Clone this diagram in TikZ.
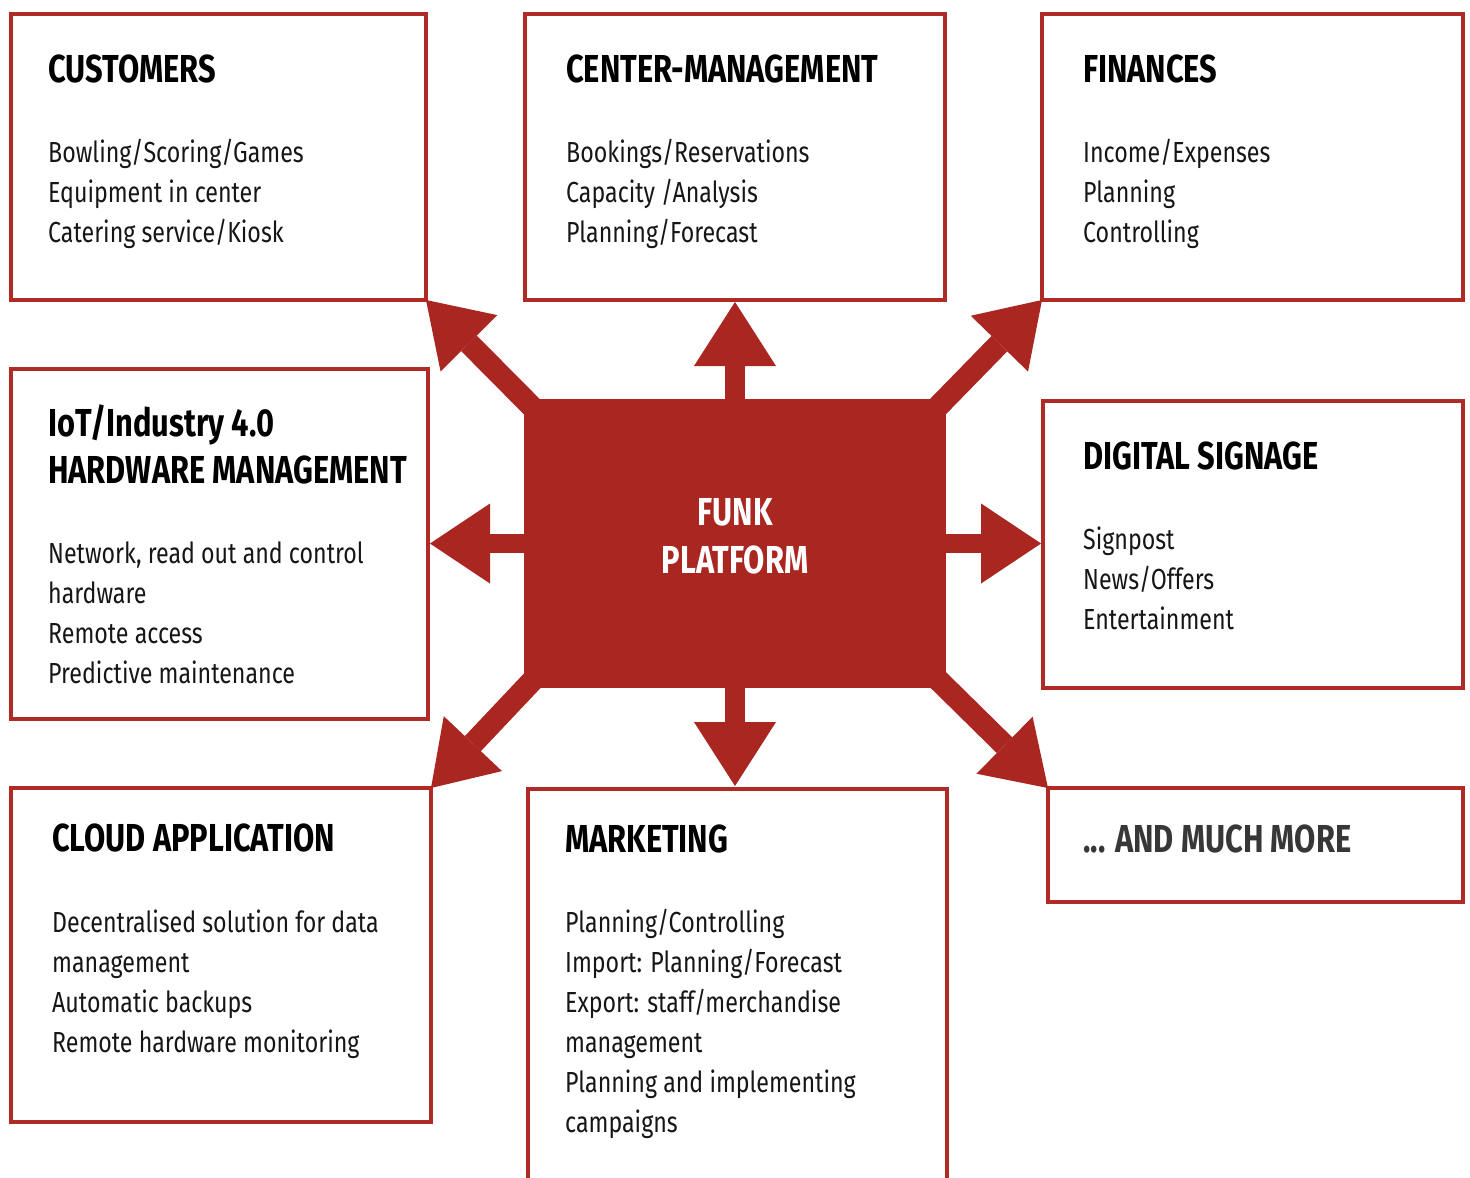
\documentclass[tikz,border=0pt]{standalone}
\usepackage{fontspec}
\setmainfont{Fira Sans}[FakeStretch=0.8]
\newfontfamily\hfont{Fira Sans}[FakeStretch=0.79]
\usetikzlibrary{arrows.meta,calc}
\definecolor{redc}{RGB}{170,38,33}
\definecolor{boxc}{RGB}{176,42,38}
\definecolor{txt}{RGB}{22,22,22}
\definecolor{moretxt}{RGB}{55,55,55}
\tikzset{
  panel/.style={draw=boxc, line width=3.5pt, fill=white, inner sep=0pt, outer sep=0pt},
  hub/.style={fill=redc, draw=none, inner sep=0pt, outer sep=0pt},
  head/.style={anchor=base west, inner sep=0pt, text=black, font=\hfont\bfseries\fontsize{39}{47}\selectfont},
  headtwo/.style={anchor=north west, inner sep=0pt, align=left, text=black, font=\hfont\bfseries\fontsize{39}{47}\selectfont},
  body/.style={anchor=north west, inner sep=0pt, align=left, text=txt, font=\fontsize{29}{40}\selectfont},
  hubtxt/.style={anchor=base, inner sep=0pt, text=white, font=\hfont\bfseries\fontsize{39}{47}\selectfont},
  straight/.style={draw=redc, line width=20pt, -{Triangle[length=64pt,width=82pt,line width=0pt]}},
  side/.style={draw=redc, line width=19pt, -{Triangle[length=60pt,width=80pt,line width=0pt]}},
  diag/.style={draw=redc, line width=22pt, -{Triangle[length=61pt,width=80pt,line width=0pt]}}
}
\begin{document}
\begin{tikzpicture}[x=1pt,y=-1pt]
\clip (0,0) rectangle (1470,1178);
\fill[white] (0,0) rectangle (1470,1178);

% panels
\node[panel, minimum width=415pt, minimum height=286pt] (cust) at (218.5,157) {};
\node[panel, minimum width=420pt, minimum height=286pt] (cm) at (735,157) {};
\node[panel, minimum width=421pt, minimum height=286pt] (fin) at (1252.5,157) {};
\node[panel, minimum width=417pt, minimum height=350pt] (iot) at (219.5,544) {};
\node[panel, minimum width=420pt, minimum height=287pt] (sig) at (1253,544.5) {};
\node[panel, minimum width=420pt, minimum height=334pt] (cloud) at (221,955) {};
\node[panel, minimum width=419pt, minimum height=420pt] (mkt) at (737.5,999) {};
\node[panel, minimum width=415pt, minimum height=114pt] (more) at (1255.5,845) {};

% hub
\node[hub, minimum width=422pt, minimum height=289pt] (plat) at (735,543.5) {};

% arrows
\draw[straight, shorten >=2pt] (plat.north) -- (plat.north |- cm.south);
\draw[straight, shorten >=3pt] (plat.south) -- (plat.south |- mkt.north);
\draw[side, shorten >=2pt] (plat.west) -- (iot.east |- plat.west);
\draw[side, shorten >=2pt] (plat.east) -- (sig.west |- plat.east);
\coordinate (ulin) at ($(plat.north west)+(25,25)$);
\coordinate (urin) at ($(plat.north east)+(-25,25)$);
\coordinate (llin) at ($(plat.south west)+(25,-25)$);
\coordinate (lrin) at ($(plat.south east)+(-25,-25)$);
\draw[diag] (ulin) -- (cust.south east);
\draw[diag] (urin) -- (fin.south west);
\draw[diag] (llin) -- (cloud.north east);
\draw[diag] (lrin) -- (more.north west);

% hub text
\node[hubtxt] (funk) at (735,525) {FUNK};
\node[hubtxt] (platf) at (735,573) {PLATFORM};

% texts
\node[head] (custh) at (48,82) {CUSTOMERS};
\node[body] (custb) at (48,134) {\strut Bowling/Scoring/Games\\Equipment in center\\Catering service/Kiosk};

\node[head] (cmh) at (566,82) {CENTER-MANAGEMENT};
\node[body] (cmb) at (566,134) {\strut Bookings/Reservations\\Capacity /Analysis\\Planning/Forecast};

\node[head] (finh) at (1083,82) {FINANCES};
\node[body] (finb) at (1083,134) {\strut Income/Expenses\\Planning\\Controlling};

\node[headtwo] (ioth) at (48,403) {\strut IoT/Industry 4.0\\HARDWARE MANAGEMENT};
\node[body] (iotb) at (48,535) {\strut Network, read out and control\\hardware\\Remote access\\Predictive maintenance};

\node[head] (sigh) at (1083,469) {DIGITAL SIGNAGE};
\node[body] (sigb) at (1083,521) {\strut Signpost\\News/Offers\\Entertainment};

\node[head] (cloudh) at (52,851) {CLOUD APPLICATION};
\node[body] (cloudb) at (52,904) {\strut Decentralised solution for data\\management\\Automatic backups\\Remote hardware monitoring};

\node[head] (mkth) at (565,852) {MARKETING};
\node[body] (mktb) at (565,904) {\strut Planning/Controlling\\Import: Planning/Forecast\\Export: staff/merchandise\\management\\Planning and implementing\\campaigns};

\node[head, text=moretxt] (moreh) at (1083,852) {... AND MUCH MORE};
\end{tikzpicture}
\end{document}
